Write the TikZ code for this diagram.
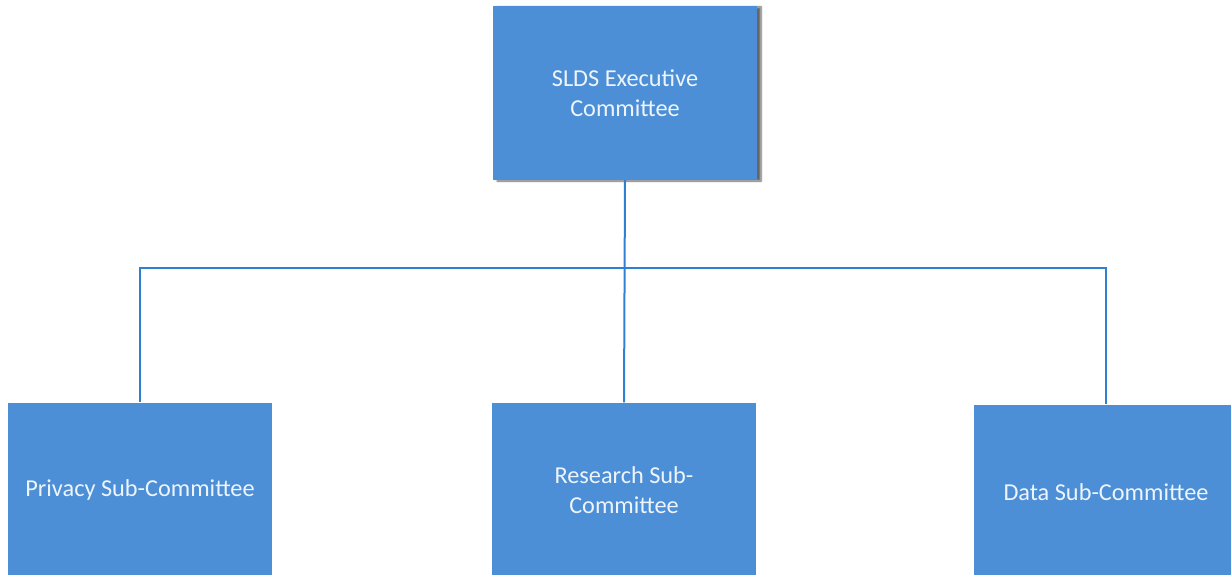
\documentclass[tikz,border=0pt]{standalone}
\usepackage{fontspec}
\setmainfont{Carlito}
\usepackage{tikz}
\usetikzlibrary{positioning,shadows.blur}
\definecolor{boxblue}{HTML}{4C8FD6}
\definecolor{lineblue}{HTML}{2F7FD3}
\definecolor{boxtext}{HTML}{EEF4FB}
\tikzset{committee/.style={fill=boxblue,draw=none,minimum width=264pt,minimum height=175pt,inner sep=0pt,align=center,text=boxtext,font=\fontsize{24.3}{29.5}\selectfont}}
\tikzset{link/.style={draw=lineblue,line width=2pt}}

\begin{document}
\begin{tikzpicture}[x=1pt,y=-1pt]
  \useasboundingbox (0,0) rectangle (1231,575);
  \clip (0,0) rectangle (1231,575);
  \node[committee,minimum height=174pt,blur shadow={shadow xshift=4pt,shadow yshift=-1pt,shadow blur steps=6,shadow opacity=60}] (exec) at (625,93) {SLDS Executive\\Committee};
  \node[committee] (priv) at (140,490) {Privacy Sub-Committee};
  \node[committee] (res) at (624,490) {Research Sub-\\Committee};
  \node[committee] (data) at (1106,492) {Data Sub-Committee};
  \coordinate (bus) at (624,268);

  \draw[link] (exec.south) -- (res.north);
  \draw[link] (priv.north) |- (bus) -| (data.north);
\end{tikzpicture}
\end{document}
